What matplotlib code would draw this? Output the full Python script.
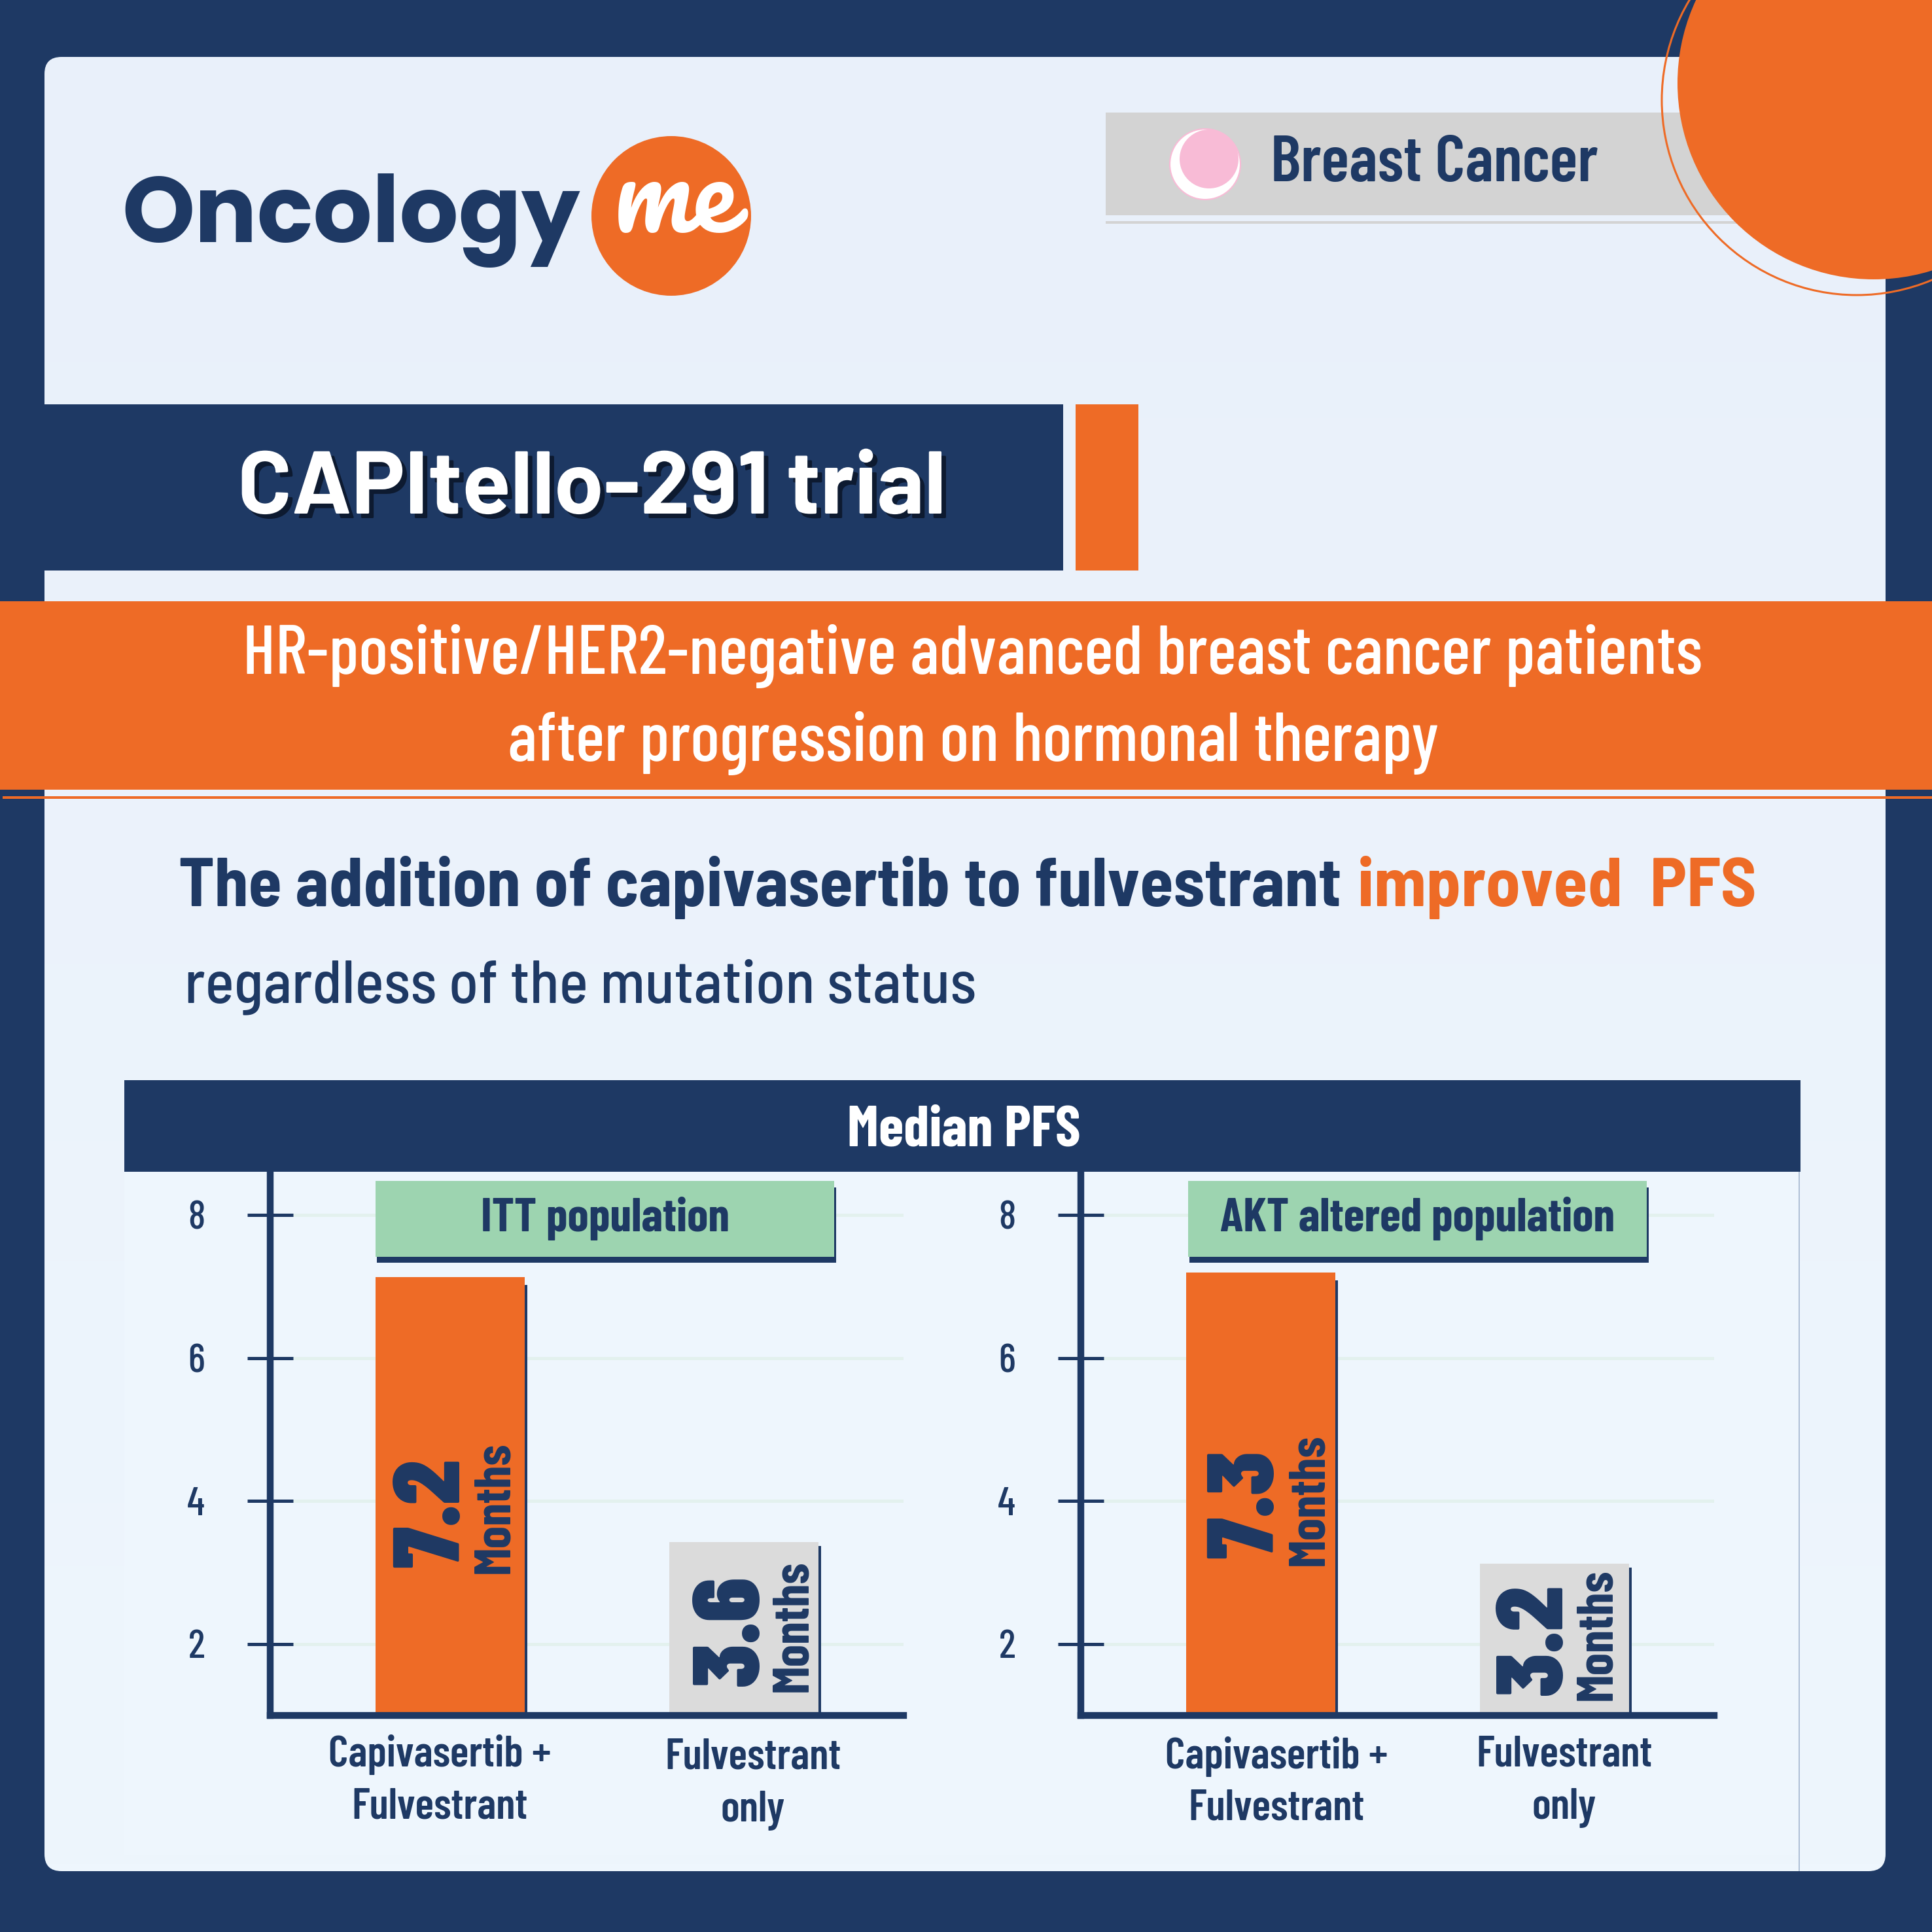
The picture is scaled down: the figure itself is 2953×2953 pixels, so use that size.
import numpy as np
import matplotlib
matplotlib.use("Agg")
import matplotlib.pyplot as plt
from matplotlib.patches import Rectangle, Circle, FancyBboxPatch
import matplotlib.patheffects as pe
import logging
logging.getLogger("matplotlib.font_manager").setLevel(logging.ERROR)

NAVY = "#1E3964"; ORANGE = "#EE6B26"; GREEN = "#9DD4B0"; GREY = "#DBDBDB"
COND = ["Barlow Condensed", "Roboto Condensed", "Roboto", "DejaVu Sans"]
SEMIC = ["Barlow Semi Condensed", "Roboto Condensed", "Roboto", "DejaVu Sans"]
SEMI = ["Barlow", "Roboto", "DejaVu Sans"]
plt.rcParams["font.family"] = COND

panels = ["ITT population", "AKT altered population"]
categories = [["Capivasertib +\nFulvestrant", "Fulvestrant\nonly"]] * 2
bar_heights = [[7.13, 3.42], [7.19, 3.12]]
value_labels = [["7.2", "3.6"], ["7.3", "3.2"]]
yticks = [2, 4, 6, 8]

fig = plt.figure(figsize=(29.53, 29.53), dpi=100, facecolor=NAVY)
bg = fig.add_axes([0, 0, 1, 1], zorder=1); bg.axis("off")

panel = FancyBboxPatch((68 + 26, 87 + 26), 2814 - 52, 2773 - 52, boxstyle="round,pad=26,rounding_size=26", fc="none", ec="none")
bg.add_patch(panel)
c0 = np.array([233, 240, 250]); c1 = np.array([238, 246, 253])
grad = (c0 + np.linspace(0, 1, 256)[:, None, None] * (c1 - c0)) / 255
im = bg.imshow(grad, extent=(68, 2882, 2860, 87), aspect="auto", zorder=1)
im.set_clip_path(panel)
bg.set_xlim(0, 2953); bg.set_ylim(2953, 0)

def rect(x0, y0, x1, y1, c, z=2):
    bg.add_patch(Rectangle((x0, y0), x1 - x0, y1 - y0, fc=c, ec="none", zorder=z))

# badge
rect(1690, 172, 2700, 329, "#D3D3D3"); rect(1690, 338, 2700, 342, "#D3D3D3")
bg.add_patch(Circle((2864, 127), 300, fc=ORANGE, ec="none", zorder=3))
bg.add_patch(Circle((2838, 153), 298, fc="none", ec=ORANGE, lw=2.2, zorder=3))
bg.add_patch(Circle((1842, 251), 54, fc="white", ec="#F8BBD6", lw=1.5, zorder=3))
bg.add_patch(Circle((1848, 243), 45, fc="#F8BBD6", ec="none", zorder=3))
bg.text(1942, 277, "Breast Cancer", color=NAVY, fontsize=72, weight=600, va="baseline", ha="left", zorder=4)

# logo
bg.text(186, 370, "Oncology", color=NAVY, fontsize=102, weight=700, family=["Poppins", "Roboto", "DejaVu Sans"], va="baseline", ha="left", zorder=4)
bg.add_patch(Circle((1026, 330), 122, fc=ORANGE, ec="none", zorder=3))
bg.text(1030, 355, "me", color="white", fontsize=118, family=["Pacifico", "Lato", "DejaVu Sans"], va="baseline", ha="center", zorder=4)

# title
rect(68, 618, 1625, 872, NAVY); rect(1644, 618, 1740, 872, ORANGE)
bg.text(905, 785, "CAPItello-291 trial", color="white", fontsize=98, weight=700, family=SEMI, ha="center", va="baseline", zorder=4,
        path_effects=[pe.withSimplePatchShadow(offset=(5, -5), shadow_rgbFace="#0d1a30", alpha=1)])

# orange band
rect(0, 919, 2953, 1207, ORANGE); rect(4, 1217, 2953, 1221, ORANGE, 3)
bg.text(1487, 1030, "HR-positive/HER2-negative advanced breast cancer patients", color="white", fontsize=76, weight=500, ha="center", va="baseline", zorder=4)
bg.text(1487, 1163, "after progression on hormonal therapy", color="white", fontsize=76, weight=500, ha="center", va="baseline", zorder=4)

# heading
bg.text(273, 1385, "The addition of capivasertib to fulvestrant", color=NAVY, fontsize=75, weight=700, family=SEMIC, va="baseline", ha="left", zorder=4)
bg.text(2075, 1385, "improved  PFS", color=ORANGE, fontsize=76, weight=700, family=SEMIC, va="baseline", ha="left", zorder=4)
bg.text(282, 1532, "regardless of the mutation status", color=NAVY, fontsize=66.5, weight=500, family=SEMIC, va="baseline", ha="left", zorder=4)

# chart block
rect(190, 1791, 2750, 2836, "#EEF6FD"); rect(2749, 1791, 2751, 2860, "#AFC0D6", 3)
rect(190, 1651, 2752, 1791, NAVY)
bg.text(1473, 1751, "Median PFS", color="white", fontsize=63, weight=700, ha="center", va="baseline", zorder=4)

layouts = [
    dict(axl=413, axr=1381, c0=688, box=(574, 1275), boxtxt=925,
         cat=[(672, 2682, 2762), (1151, 2686, 2768)],
         val=[(665, 2313, 757, 2304), (1121, 2493, 1213, 2485)]),
    dict(axl=1652, axr=2620, c0=1927, box=(1816, 2517), boxtxt=2167,
         cat=[(1951, 2685, 2764), (2391, 2682, 2764)],
         val=[(1909, 2300, 2002, 2292), (2349, 2507, 2442, 2498)]),
]
SPACING = 449; BARW = 228
Y0, Y1 = 2622, 1791
PX = 109.3
SHADOW_DY = [12, 6]

top = fig.add_axes([0, 0, 1, 1], zorder=6); top.set_xlim(0, 2953); top.set_ylim(2953, 0); top.axis("off")

for i, L in enumerate(layouts):
    pos = [L["axl"] / 2953, 1 - Y0 / 2953, (L["axr"] - L["axl"]) / 2953, (Y0 - Y1) / 2953]
    ax = fig.add_axes(pos, zorder=5); ax.patch.set_alpha(0)
    ax.set_xlim((L["axl"] - L["c0"]) / SPACING, (L["axr"] - L["c0"]) / SPACING)
    ax.set_ylim(1, 1 + (Y0 - Y1) / PX)
    x = np.arange(2)
    h = np.array(bar_heights[i])
    ax.bar(x + 4 / SPACING, h - 1 - np.array(SHADOW_DY) / PX, BARW / SPACING, bottom=1, color=NAVY, zorder=2)
    ax.bar(x, h - 1, BARW / SPACING, bottom=1, color=[ORANGE, GREY], zorder=3)
    for s in ("top", "right"):
        ax.spines[s].set_visible(False)
    for s in ("left", "bottom"):
        ax.spines[s].set_color(NAVY); ax.spines[s].set_linewidth(7.5); ax.spines[s].set_zorder(4)
    ax.set_yticks(yticks); ax.set_xticks([])
    ax.tick_params(axis="y", direction="inout", length=50, width=3.6, color=NAVY, labelcolor=NAVY, labelsize=44, pad=47)
    for lb in ax.get_yticklabels():
        lb.set_fontweight(500)
    ax.grid(axis="y", color="#E3F1EE", lw=3.6, zorder=1); ax.set_axisbelow(True)
    for k, cat in enumerate(categories[i]):
        cx, y1, y2 = L["cat"][k]
        a, b = cat.split("\n")
        top.text(cx, y1, a, color=NAVY, fontsize=48, weight=600, ha="center", va="center")
        top.text(cx, y2, b, color=NAVY, fontsize=48, weight=600, ha="center", va="center")
    for k, lab in enumerate(value_labels[i]):
        vx, vy, mx, my = L["val"][k]
        kw = dict(color=NAVY, rotation=90, ha="center", va="center")
        top.text(vx, vy, lab, fontsize=104, weight=900, **kw)
        top.text(mx, my, "Months", fontsize=56, weight=700, **kw)
    x0, x1 = L["box"]
    top.add_patch(Rectangle((x0 + 2, 1815), x1 - x0 + 1, 115, fc=NAVY, ec="none"))
    top.add_patch(Rectangle((x0, 1805), x1 - x0, 116, fc=GREEN, ec="none"))
    top.text(L["boxtxt"], 1862, panels[i], color=NAVY, fontsize=52.5, weight=700, ha="center", va="center")

fig.savefig("out.png", dpi=100, facecolor=NAVY)
